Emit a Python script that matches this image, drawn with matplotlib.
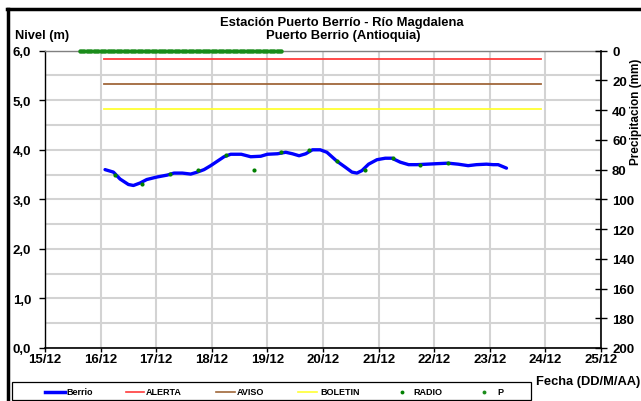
import matplotlib
matplotlib.use("Agg")
import matplotlib.pyplot as plt
from matplotlib.lines import Line2D
from matplotlib.patches import Rectangle
import numpy as np

plt.rcParams['font.family'] = ['Liberation Sans', 'DejaVu Sans']
plt.rcParams['font.weight'] = 'bold'

# ---- data (day of December as fractional day) ----
berrio_days = [16.08, 16.23, 16.35, 16.50, 16.59, 16.71, 16.83, 17.01, 17.20, 17.32,
               17.47, 17.62, 17.74, 17.86, 17.98, 18.10, 18.22, 18.34, 18.53, 18.70,
               18.88, 19.00, 19.18, 19.33, 19.45, 19.57, 19.69, 19.81, 19.95, 20.07,
               20.25, 20.40, 20.52, 20.61, 20.70, 20.82, 20.97, 21.12, 21.24, 21.39,
               21.54, 21.69, 21.87, 22.05, 22.25, 22.43, 22.61, 22.76, 22.94, 23.06,
               23.15, 23.30]
berrio_level = [3.60, 3.55, 3.41, 3.30, 3.28, 3.33, 3.40, 3.45, 3.49, 3.53,
                3.53, 3.51, 3.55, 3.60, 3.68, 3.77, 3.86, 3.91, 3.91, 3.86,
                3.87, 3.91, 3.92, 3.95, 3.92, 3.88, 3.92, 4.00, 4.00, 3.95,
                3.77, 3.65, 3.55, 3.53, 3.58, 3.71, 3.80, 3.83, 3.83, 3.75,
                3.70, 3.70, 3.71, 3.72, 3.73, 3.71, 3.68, 3.70, 3.71, 3.70,
                3.70, 3.63]

radio_days = [16.25, 16.75, 17.25, 17.75, 18.25, 18.75, 19.25, 19.75,
              20.25, 20.75, 21.25, 21.75, 22.25]
radio_level = [3.50, 3.31, 3.52, 3.60, 3.90, 3.60, 3.95, 4.00,
               3.77, 3.60, 3.83, 3.70, 3.73]

threshold_days = [16.07, 23.92]
alerta = 5.83
aviso = 5.32
boletin = 4.83

# hourly precipitation readings (mm), all zero
p_days = list(np.arange(15.625, 19.28, 1 / 24))
p_values = [0.0] * len(p_days)

x_ticks = list(range(15, 26))
x_labels = [f"{d}/12" for d in x_ticks]
y_ticks = [0, 1, 2, 3, 4, 5, 6]
y_labels = ["0,0", "1,0", "2,0", "3,0", "4,0", "5,0", "6,0"]
p_ticks = list(range(0, 201, 20))

C_BERRIO = '#0000ff'
C_ALERTA = '#ff3b3b'
C_AVISO = '#a0673a'
C_BOLETIN = '#ffff33'
C_RADIO = '#008000'
C_P = '#1a8c1a'

W, H = 641, 402
fx = lambda px: px / W
fy = lambda py: 1 - py / H

# ---- figure ----
fig = plt.figure(figsize=(6.41, 4.02), dpi=100)
ax = fig.add_axes([fx(45), fy(349), (601 - 45) / W, (349 - 51.7) / H])

grid_c = '#d3d3d3'
ax.set_xlim(15, 25)
ax.set_ylim(0, 6)
ax.set_xticks(x_ticks)
ax.set_xticklabels(x_labels, fontsize=9.5, fontweight='bold')
ax.set_yticks(y_ticks)
ax.set_yticklabels(y_labels, fontsize=9.5, fontweight='bold')
ax.set_yticks(np.arange(0.5, 6, 1.0), minor=True)
ax.grid(True, which='major', color=grid_c, lw=1.5)
ax.grid(True, which='minor', axis='y', color=grid_c, lw=1.5)
ax.tick_params(axis='y', which='minor', length=0)
ax.tick_params(axis='y', which='major', length=4, width=1, direction='out', pad=6)
ax.tick_params(axis='x', which='major', length=3, width=1, direction='out', pad=0.5)
ax.set_axisbelow(True)
ax.spines['top'].set_color('#808080')
ax.spines['top'].set_linewidth(1)
ax.spines['left'].set_linewidth(1)
ax.spines['bottom'].set_linewidth(1.2)
ax.spines['right'].set_visible(False)

ax.plot(threshold_days, [alerta, alerta], color=C_ALERTA, lw=1.3)
ax.plot(threshold_days, [aviso, aviso], color=C_AVISO, lw=1.3)
ax.plot(threshold_days, [boletin, boletin], color=C_BOLETIN, lw=1.3)
ax.plot(berrio_days, berrio_level, color=C_BERRIO, lw=2.4, solid_capstyle='round')
ax.plot(radio_days, radio_level, ls='none', marker='o', ms=3.0, mew=0, color=C_RADIO, zorder=5)

ax2 = ax.twinx()
ax2.set_ylim(200, 0)
ax2.set_yticks(p_ticks)
ax2.set_yticklabels([str(t) for t in p_ticks], fontsize=9.5, fontweight='bold')
ax2.tick_params(axis='y', direction='inout', length=8, width=1, pad=4)
for s in ['top', 'left', 'bottom']:
    ax2.spines[s].set_visible(False)
ax2.spines['right'].set_linewidth(1.2)
ax2.plot(p_days, p_values, ls='none', marker='o', ms=3.2, mew=0, color=C_P,
         clip_on=False, zorder=6)

# ---- texts ----
fig.text(fx(342), fy(23), "Estación Puerto Berrío - Río Magdalena", ha='center', va='center',
         fontsize=9.4, fontweight='bold')
fig.text(fx(343), fy(36.5), "Puerto Berrio (Antioquia)", ha='center', va='center',
         fontsize=9.4, fontweight='bold')
fig.text(fx(15), fy(36), "Nivel (m)", ha='left', va='center', fontsize=9.3, fontweight='bold')
fig.text(fx(636), fy(112), "Precipitacion (mm)", ha='center', va='center', rotation=90,
         fontsize=8.5, fontweight='bold')
fig.text(fx(536), fy(382), "Fecha (DD/M/AA)", ha='left', va='center',
         fontsize=9.3, fontweight='bold')

# ---- legend (drawn in figure pixels) ----
fig.add_artist(Rectangle((fx(12), fy(400.7)), (531 - 12) / W, (400.7 - 383) / H,
                         transform=fig.transFigure, facecolor='white',
                         edgecolor='black', lw=0.9))
ly = fy(392.5)
line_entries = [("Berrio", C_BERRIO, 2.5, 45, 65, 66),
                ("ALERTA", C_ALERTA, 1.2, 126, 144, 145.5),
                ("AVISO", C_AVISO, 1.2, 216, 235, 236.5),
                ("BOLETIN", C_BOLETIN, 1.2, 298, 317, 320)]
for lab, col, lw, x0, x1, xt in line_entries:
    fig.add_artist(Line2D([fx(x0), fx(x1)], [ly, ly], color=col, lw=lw,
                          transform=fig.transFigure))
    fig.text(fx(xt), ly, lab, ha='left', va='center', fontsize=6.5, fontweight='bold')
marker_entries = [("RADIO", C_RADIO, 402, 413), ("P", C_P, 484, 497)]
for lab, col, xm, xt in marker_entries:
    fig.add_artist(Line2D([fx(xm)], [ly], ls='none', marker='o', ms=2.8, mew=0, color=col,
                          transform=fig.transFigure))
    fig.text(fx(xt), ly, lab, ha='left', va='center', fontsize=6.5, fontweight='bold')

# ---- outer border (left and top) ----
fig.add_artist(Line2D([fx(7.5), fx(7.5)], [0, fy(10)], color='black', lw=2.5,
                      transform=fig.transFigure))
fig.add_artist(Line2D([fx(6.5), 1], [fy(10), fy(10)], color='black', lw=2.5,
                      transform=fig.transFigure))

fig.savefig("out.png", dpi=100)
